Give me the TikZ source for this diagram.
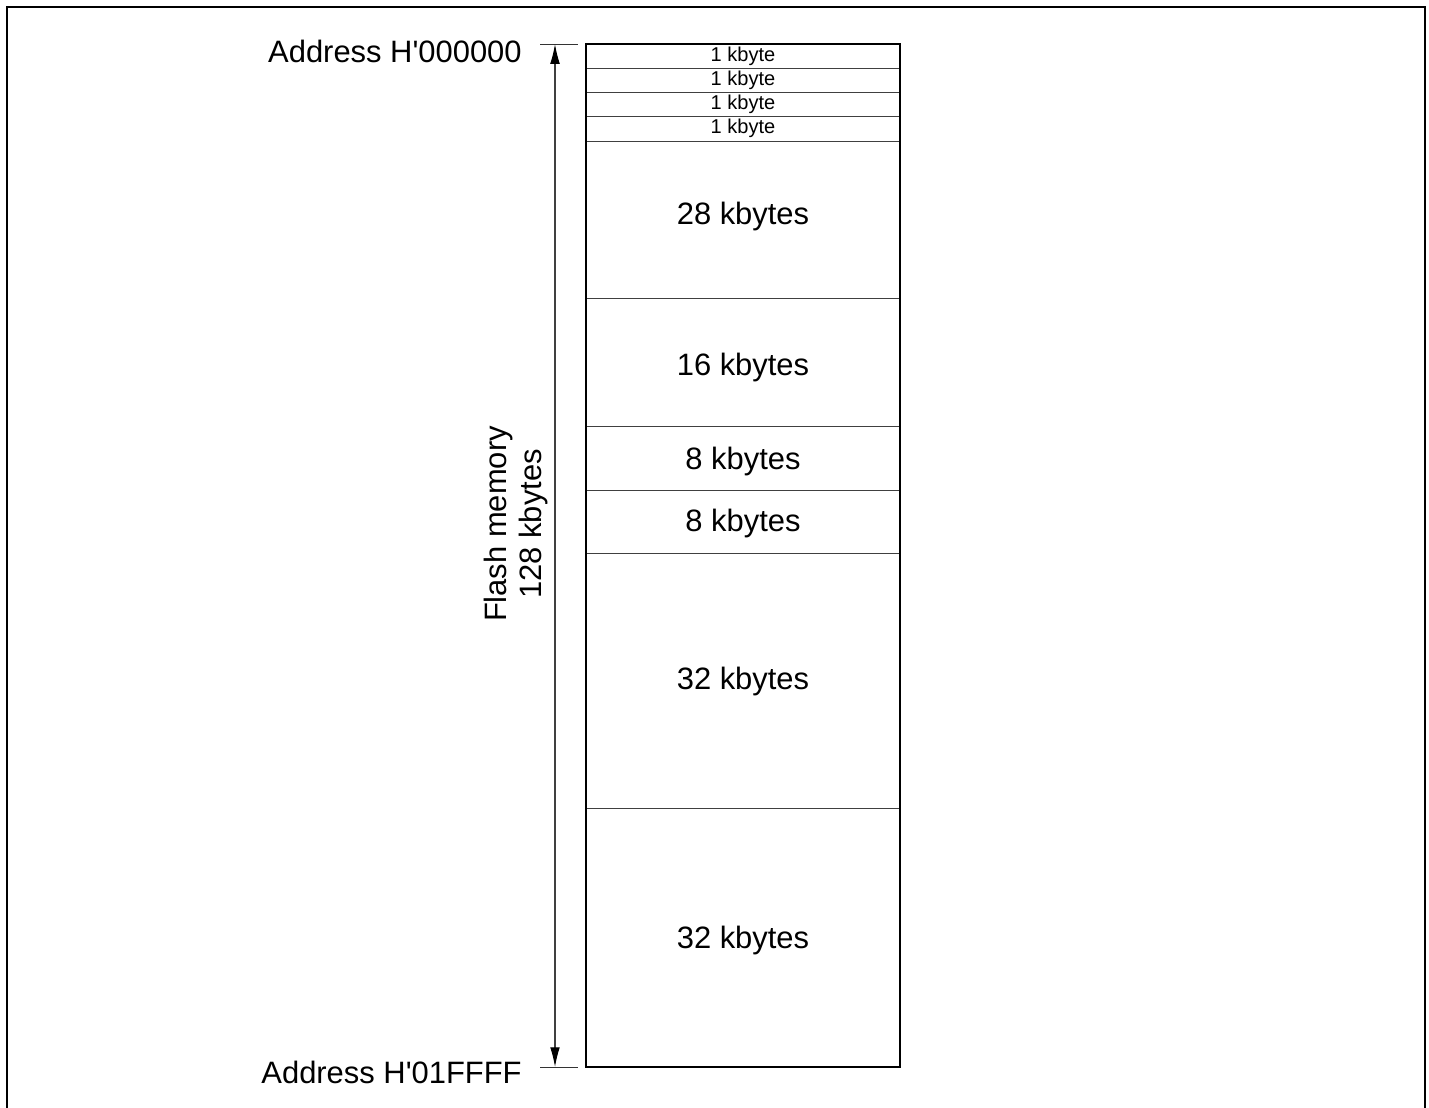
\documentclass[tikz,border=0pt]{standalone}
\usepackage{fontspec}
\setmainfont{Liberation Sans}
\usepackage{tikz}
\usetikzlibrary{arrows.meta}

\begin{document}
\begin{tikzpicture}[x=0.02cm,y=-0.02cm,
    lbbig/.style={inner sep=0pt,font=\fontsize{17.6}{20}\selectfont},
    lbsmall/.style={inner sep=0pt,font=\fontsize{11.4}{13}\selectfont},
    divline/.style={line width=0.5pt,black!75},
    tickline/.style={line width=0.5pt,black!80}]
  \useasboundingbox (0,0) rectangle (1429,1107);
  \draw[line width=1pt] (7,1115) -- (7,7) -- (1425,7) -- (1425,1115);
  % memory blocks
  \foreach \ya/\yb/\yt/\lbl/\sty [count=\i] in {%
      44/68/56/1 kbyte/lbsmall, 68/92/80/1 kbyte/lbsmall,
      92/116/104/1 kbyte/lbsmall, 116/141/128/1 kbyte/lbsmall,
      141/298/216/28 kbytes/lbbig, 298/426/367/16 kbytes/lbbig,
      426/490/461/8 kbytes/lbbig, 490/553/523/8 kbytes/lbbig,
      553/808/681/32 kbytes/lbbig, 808/1067/940/32 kbytes/lbbig}{%
    \draw[divline] (586,\ya) rectangle (900,\yb);
    \node[\sty] (blk\i) at (743,\yt) {\lbl};
  }
  \draw[line width=0.9pt] (586,44) rectangle (900,1067);
  % address marks
  \coordinate (ticktopl) at (540,44);
  \coordinate (ticktopr) at (578,44);
  \coordinate (tickbotl) at (540,1067);
  \coordinate (tickbotr) at (578,1067);
  \draw[tickline] (ticktopl) -- (ticktopr);
  \draw[tickline] (tickbotl) -- (tickbotr);
  \node[lbbig,anchor=east] (addrtop) at (522,51) {Address H\textquotesingle000000};
  \node[lbbig,anchor=east] (addrbot) at (522,1072) {Address H\textquotesingle01FFFF};
  % size arrow
  \coordinate (arrtop) at (555,44);
  \coordinate (arrbot) at (555,1067);
  \draw[black!75,line width=0.6pt,{Latex[length=15pt*0.75,width=5.5pt,black]}-{Latex[length=15pt*0.75,width=5.5pt,black]}] (arrtop) -- (arrbot);
  \node[lbbig,rotate=90,align=center] (flash) at (516,524) {Flash memory\\128 kbytes};
\end{tikzpicture}
\end{document}
